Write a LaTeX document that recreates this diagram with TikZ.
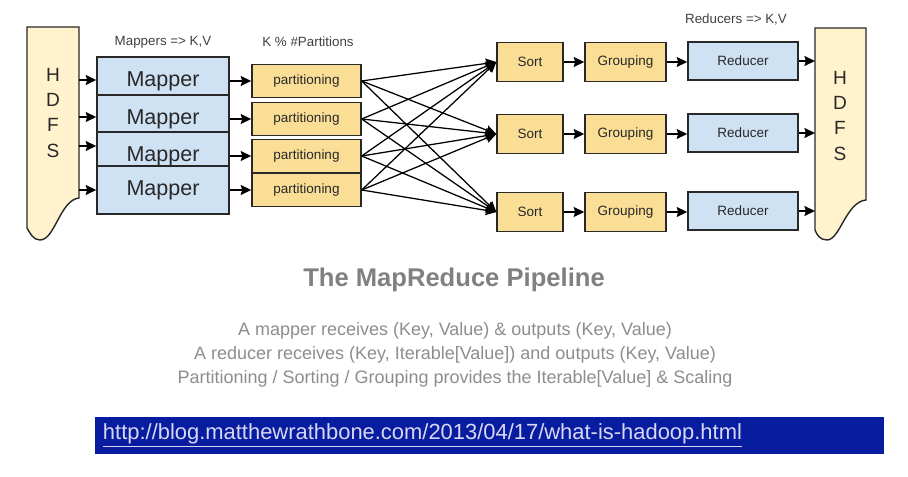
\documentclass[tikz,border=0pt]{standalone}
\usepackage{fontspec}
\setmainfont{Liberation Sans}
\usetikzlibrary{arrows.meta}

\definecolor{mapblue}{RGB}{207,226,243}
\definecolor{sortyellow}{RGB}{250,222,150}
\definecolor{hdfscream}{RGB}{255,242,204}
\definecolor{edgegray}{RGB}{40,40,40}
\definecolor{linkblue}{RGB}{8,28,160}
\definecolor{linktext}{RGB}{215,215,245}
\definecolor{captiongray}{RGB}{128,128,128}

\begin{document}
\begin{tikzpicture}[x=0.025cm, y=-0.025cm, >={Stealth[length=7.5pt,width=7pt,inset=1pt]},
    every node/.style={font=\fontsize{9.6}{11}\selectfont, text=edgegray},
    box/.style={draw=edgegray, line width=1pt, inner sep=0pt},
    mapbox/.style={box, fill=mapblue, minimum width=3.3cm, minimum height=1.2cm, font=\fontsize{15.3}{18}\selectfont},
    partbox/.style={box, fill=sortyellow, minimum width=2.725cm, minimum height=0.825cm},
    sortbox/.style={box, fill=sortyellow, minimum width=1.65cm, minimum height=0.975cm},
    groupbox/.style={box, fill=sortyellow, minimum width=2.025cm, minimum height=0.975cm},
    redbox/.style={box, fill=mapblue, minimum width=2.75cm, minimum height=0.95cm},
    hdfs/.style={draw=edgegray, line width=1pt, fill=hdfscream},
    flow/.style={->, line width=1.1pt, black},
    cross/.style={->, line width=0.9pt, black},
    heading/.style={font=\fontsize{9.5}{11}\selectfont, text=black!75}]
    \useasboundingbox (0,0) rectangle (908,477);

    % HDFS links
    \draw[hdfs] (27,27) -- (79,27) -- (79,198)
        .. controls (60,200) and (55,240) .. (40,240)
        .. controls (33,240) and (30,233) .. (27,228) -- cycle;
    \node[font=\fontsize{13.6}{17.8}\selectfont, align=center] (hdfsin) at (53,113) {H\\D\\F\\S};

    % HDFS rechts
    \draw[hdfs] (815,28) -- (866,28) -- (866,200)
        .. controls (846,202) and (840,240) .. (827,240)
        .. controls (820,240) and (817,235) .. (815,230) -- cycle;
    \node[font=\fontsize{13.6}{17.8}\selectfont, align=center] (hdfsout) at (840,116) {H\\D\\F\\S};

    % Mappers
    \node[heading] (maplabel) at (163,42) {Mappers => K,V};
    \node[mapbox] (m1) at (163,81) {Mapper};
    \node[mapbox] (m2) at (163,119) {Mapper};
    \node[mapbox] (m3) at (163,156) {Mapper};
    \node[mapbox] (m4) at (163,190) {Mapper};

    % Partitioning
    \node[heading] (partlabel) at (308,42) {K \% \#Partitions};
    \node[partbox] (p1) at (306.5,81) {partitioning};
    \node[partbox] (p2) at (306.5,119) {partitioning};
    \node[partbox] (p3) at (306.5,156) {partitioning};
    \node[partbox] (p4) at (306.5,190) {partitioning};

    % Sort, Grouping, Reducer
    \node[sortbox] (s1) at (530,62) {Sort};
    \node[sortbox] (s2) at (530,134) {Sort};
    \node[sortbox] (s3) at (530,212) {Sort};
    \node[groupbox] (g1) at (625.5,62) {Grouping};
    \node[groupbox] (g2) at (625.5,134) {Grouping};
    \node[groupbox] (g3) at (625.5,212) {Grouping};
    \node[heading] (redlabel) at (736,20) {Reducers => K,V};
    \node[redbox] (r1) at (743,61) {Reducer};
    \node[redbox] (r2) at (743,133) {Reducer};
    \node[redbox] (r3) at (743,211) {Reducer};

    % Eingänge und Ausgänge am HDFS
    \coordinate (hl1) at (79,80);
    \coordinate (hl2) at (79,117);
    \coordinate (hl3) at (79,146);
    \coordinate (hl4) at (79,190);
    \coordinate (hr1) at (815,61);
    \coordinate (hr2) at (815,133);
    \coordinate (hr3) at (815,211);

    % Pfeile HDFS -> Mapper -> Partitioning
    \draw[flow] (hl1) -- (hl1 -| m1.west);
    \draw[flow] (hl2) -- (hl2 -| m2.west);
    \draw[flow] (hl3) -- (hl3 -| m3.west);
    \draw[flow] (hl4) -- (hl4 -| m4.west);
    \draw[flow] (m1.east) -- (p1.west);
    \draw[flow] (m2.east) -- (p2.west);
    \draw[flow] (m3.east) -- (p3.west);
    \draw[flow] (m4.east) -- (p4.west);

    % Shuffle
    \draw[cross] (p1.east) -- (s1.west);
    \draw[cross] (p1.east) -- (s2.west);
    \draw[cross] (p1.east) -- (s3.west);
    \draw[cross] (p2.east) -- (s1.west);
    \draw[cross] (p2.east) -- (s2.west);
    \draw[cross] (p2.east) -- (s3.west);
    \draw[cross] (p3.east) -- (s1.west);
    \draw[cross] (p3.east) -- (s2.west);
    \draw[cross] (p3.east) -- (s3.west);
    \draw[cross] (p4.east) -- (s1.west);
    \draw[cross] (p4.east) -- (s2.west);
    \draw[cross] (p4.east) -- (s3.west);

    % Pfeile Sort -> Grouping -> Reducer -> HDFS
    \draw[flow] (s1.east) -- (g1.west);
    \draw[flow] (s2.east) -- (g2.west);
    \draw[flow] (s3.east) -- (g3.west);
    \draw[flow] (g1.east) -- (g1.east -| r1.west);
    \draw[flow] (g2.east) -- (g2.east -| r2.west);
    \draw[flow] (g3.east) -- (g3.east -| r3.west);
    \draw[flow] (r1.east) -- (hr1);
    \draw[flow] (r2.east) -- (hr2);
    \draw[flow] (r3.east) -- (hr3);

    % Beschriftung
    \node[font=\bfseries\fontsize{18.2}{22}\selectfont, text=captiongray] (title) at (454,280) {The MapReduce Pipeline};
    \node[font=\fontsize{12.8}{17.1}\selectfont, text=captiongray!90!white, align=center] (notes) at (455,355)
        {A mapper receives (Key, Value) \& outputs (Key, Value)\\
         A reducer receives (Key, Iterable[Value]) and outputs (Key, Value)\\
         Partitioning / Sorting / Grouping provides the Iterable[Value] \& Scaling};

    % Link
    \fill[linkblue] (95,417) rectangle (884,454);
    \node[anchor=west, font=\fontsize{15.6}{18}\selectfont, text=linktext] (link) at (98,435)
        {\underline{http://blog.matthewrathbone.com/2013/04/17/what-is-hadoop.html}};
\end{tikzpicture}
\end{document}
